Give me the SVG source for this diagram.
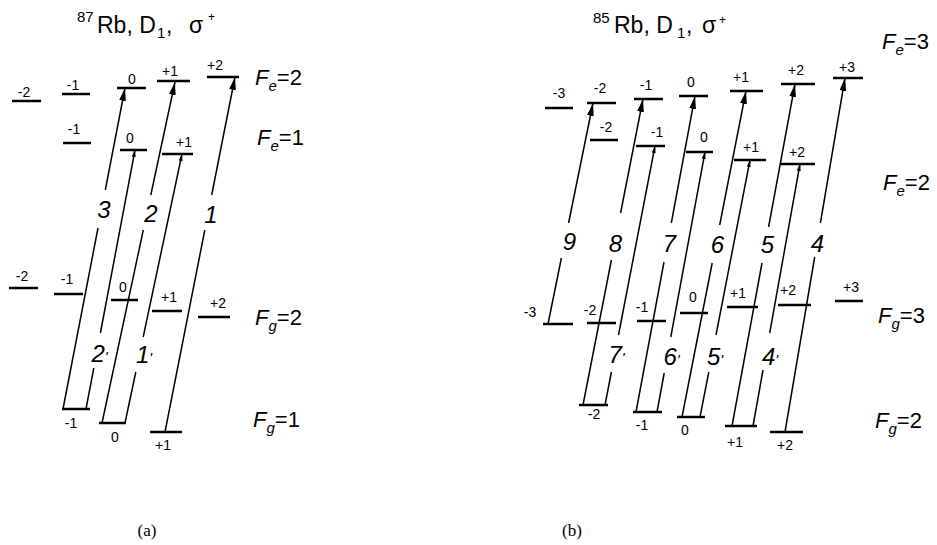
<svg xmlns="http://www.w3.org/2000/svg" width="937" height="545" viewBox="0 0 937 545">
<style>
.lvl{stroke:#000;stroke-width:2.5;fill:none}
.m{font-family:"Liberation Sans",Arial,sans-serif;font-size:14px;text-anchor:middle;fill:#000}
.conn{stroke:#000;stroke-width:1.5;fill:none}
.big{marker-end:url(#ab)}
.small{marker-end:url(#as)}
.num{font-family:"Liberation Sans",Arial,sans-serif;font-style:italic;font-size:24px;text-anchor:middle;fill:#000}
.pr{font-size:15px}
.F{font-family:"Liberation Sans",Arial,sans-serif;font-style:italic;font-size:22px;fill:#000}
.t{font-family:"Liberation Sans",Arial,sans-serif;font-size:23px;fill:#000}
.cap{font-family:"Liberation Serif","Times New Roman",serif;font-size:17px;text-anchor:middle;fill:#000}
</style>
<defs>
<marker id="ab" markerUnits="userSpaceOnUse" markerWidth="13" markerHeight="7" refX="13" refY="3.4" orient="auto"><path d="M0,0 L13,3.4 L0,6.8 z" fill="#000"/></marker>
<marker id="as" markerUnits="userSpaceOnUse" markerWidth="7" markerHeight="4" refX="7" refY="2" orient="auto"><path d="M0,0 L7,2 L0,4 z" fill="#000"/></marker>
</defs>
<rect width="937" height="545" fill="#fff"/>

<!-- titles -->
<text class="t" id="title-a"><tspan x="77" y="22" font-size="15">87</tspan><tspan x="97" y="33">Rb, D</tspan><tspan x="157" y="38" font-size="15">1</tspan><tspan x="166" y="33">,</tspan><tspan x="189" y="33">σ</tspan><tspan x="208" y="21" font-size="12">+</tspan></text>
<text class="t" id="title-b"><tspan x="593" y="23" font-size="15">85</tspan><tspan x="614" y="33">Rb, D</tspan><tspan x="677" y="38" font-size="15">1</tspan><tspan x="686" y="33">,</tspan><tspan x="702" y="33">σ</tspan><tspan x="719" y="24" font-size="12">+</tspan></text>

<!-- level labels F -->
<text class="F" x="255" y="85">F<tspan font-size="15" dy="6">e</tspan><tspan font-style="normal" dy="-6">=2</tspan></text>
<text class="F" x="257" y="145">F<tspan font-size="15" dy="6">e</tspan><tspan font-style="normal" dy="-6">=1</tspan></text>
<text class="F" x="255" y="325">F<tspan font-size="15" dy="6">g</tspan><tspan font-style="normal" dy="-6">=2</tspan></text>
<text class="F" x="253" y="427">F<tspan font-size="15" dy="6">g</tspan><tspan font-style="normal" dy="-6">=1</tspan></text>
<text class="F" x="882" y="49">F<tspan font-size="15" dy="6">e</tspan><tspan font-style="normal" dy="-6">=3</tspan></text>
<text class="F" x="883" y="190">F<tspan font-size="15" dy="6">e</tspan><tspan font-style="normal" dy="-6">=2</tspan></text>
<text class="F" x="878" y="323">F<tspan font-size="15" dy="6">g</tspan><tspan font-style="normal" dy="-6">=3</tspan></text>
<text class="F" x="875" y="428">F<tspan font-size="15" dy="6">g</tspan><tspan font-style="normal" dy="-6">=2</tspan></text>

<!-- (a) 87Rb levels -->
<g id="a-e2-m-2"><line class="lvl" x1="12" y1="101" x2="41" y2="101"/><text class="m" x="24" y="97">-2</text></g>
<g id="a-e2-m-1"><line class="lvl" x1="62" y1="94" x2="90" y2="94"/><text class="m" x="73" y="90">-1</text></g>
<g id="a-e2-m0"><line class="lvl" x1="117" y1="88" x2="146" y2="88"/><text class="m" x="132" y="84">0</text></g>
<g id="a-e2-m1"><line class="lvl" x1="157" y1="81" x2="190" y2="81"/><text class="m" x="170" y="76">+1</text></g>
<g id="a-e2-m2"><line class="lvl" x1="207" y1="77" x2="239" y2="77"/><text class="m" x="215" y="70">+2</text></g>

<g id="a-e1-m-1"><line class="lvl" x1="63" y1="143" x2="91" y2="143"/><text class="m" x="74" y="134">-1</text></g>
<g id="a-e1-m0"><line class="lvl" x1="120" y1="150" x2="147" y2="150"/><text class="m" x="130" y="143">0</text></g>
<g id="a-e1-m1"><line class="lvl" x1="162" y1="154" x2="193" y2="154"/><text class="m" x="184" y="147">+1</text></g>

<g id="a-g2-m-2"><line class="lvl" x1="9" y1="288" x2="38" y2="288"/><text class="m" x="22" y="281">-2</text></g>
<g id="a-g2-m-1"><line class="lvl" x1="54" y1="294" x2="83" y2="294"/><text class="m" x="67" y="284">-1</text></g>
<g id="a-g2-m0"><line class="lvl" x1="111" y1="300" x2="138" y2="300"/><text class="m" x="123" y="292">0</text></g>
<g id="a-g2-m1"><line class="lvl" x1="152" y1="311" x2="182" y2="311"/><text class="m" x="169" y="302">+1</text></g>
<g id="a-g2-m2"><line class="lvl" x1="198" y1="317" x2="230" y2="317"/><text class="m" x="218" y="308">+2</text></g>

<g id="a-g1-m-1"><line class="lvl" x1="62" y1="409" x2="90" y2="409"/><text class="m" x="71" y="428">-1</text></g>
<g id="a-g1-m0"><line class="lvl" x1="99" y1="423" x2="126" y2="423"/><text class="m" x="115" y="442">0</text></g>
<g id="a-g1-m1"><line class="lvl" x1="150" y1="432" x2="182" y2="432"/><text class="m" x="163" y="450">+1</text></g>

<!-- (b) 85Rb levels -->
<g id="b-e3-m-3"><line class="lvl" x1="545" y1="108" x2="573" y2="108"/><text class="m" x="559" y="98">-3</text></g>
<g id="b-e3-m-2"><line class="lvl" x1="587" y1="103" x2="616" y2="103"/><text class="m" x="600" y="93">-2</text></g>
<g id="b-e3-m-1"><line class="lvl" x1="634" y1="99" x2="663" y2="99"/><text class="m" x="646" y="90">-1</text></g>
<g id="b-e3-m0"><line class="lvl" x1="679" y1="96" x2="708" y2="96"/><text class="m" x="691" y="87">0</text></g>
<g id="b-e3-m1"><line class="lvl" x1="730" y1="91" x2="763" y2="91"/><text class="m" x="741" y="82">+1</text></g>
<g id="b-e3-m2"><line class="lvl" x1="781" y1="84" x2="815" y2="84"/><text class="m" x="796" y="75">+2</text></g>
<g id="b-e3-m3"><line class="lvl" x1="833" y1="78" x2="863" y2="78"/><text class="m" x="847" y="72">+3</text></g>

<g id="b-e2-m-2"><line class="lvl" x1="590" y1="140" x2="618" y2="140"/><text class="m" x="606" y="132">-2</text></g>
<g id="b-e2-m-1"><line class="lvl" x1="636" y1="146" x2="665" y2="146"/><text class="m" x="657" y="137">-1</text></g>
<g id="b-e2-m0"><line class="lvl" x1="686" y1="152" x2="713" y2="152"/><text class="m" x="704" y="142">0</text></g>
<g id="b-e2-m1"><line class="lvl" x1="734" y1="160" x2="766" y2="160"/><text class="m" x="751" y="152">+1</text></g>
<g id="b-e2-m2"><line class="lvl" x1="781" y1="164" x2="815" y2="164"/><text class="m" x="797" y="157">+2</text></g>

<g id="b-g3-m-3"><line class="lvl" x1="543" y1="324" x2="573" y2="324"/><text class="m" x="530" y="317">-3</text></g>
<g id="b-g3-m-2"><line class="lvl" x1="587" y1="323" x2="616" y2="323"/><text class="m" x="590" y="315">-2</text></g>
<g id="b-g3-m-1"><line class="lvl" x1="637" y1="321" x2="666" y2="321"/><text class="m" x="642" y="312">-1</text></g>
<g id="b-g3-m0"><line class="lvl" x1="680" y1="313" x2="708" y2="313"/><text class="m" x="693" y="302">0</text></g>
<g id="b-g3-m1"><line class="lvl" x1="727" y1="307" x2="758" y2="307"/><text class="m" x="738" y="298">+1</text></g>
<g id="b-g3-m2"><line class="lvl" x1="778" y1="305" x2="811" y2="305"/><text class="m" x="788" y="295">+2</text></g>
<g id="b-g3-m3"><line class="lvl" x1="835" y1="301" x2="863" y2="301"/><text class="m" x="851" y="292">+3</text></g>

<g id="b-g2-m-2"><line class="lvl" x1="579" y1="405" x2="608" y2="405"/><text class="m" x="594" y="419">-2</text></g>
<g id="b-g2-m-1"><line class="lvl" x1="633" y1="412" x2="662" y2="412"/><text class="m" x="642" y="430">-1</text></g>
<g id="b-g2-m0"><line class="lvl" x1="677" y1="417" x2="705" y2="417"/><text class="m" x="685" y="435">0</text></g>
<g id="b-g2-m1"><line class="lvl" x1="725" y1="426" x2="757" y2="426"/><text class="m" x="735" y="447">+1</text></g>
<g id="b-g2-m2"><line class="lvl" x1="770" y1="432" x2="803" y2="432"/><text class="m" x="785" y="450">+2</text></g>

<!-- connectors -->
<g id="connectors">
<path class="conn big" d="M63,409 L98,228 M105.3,190 L125,88"/>
<path class="conn small" d="M86,409 L93.8,368 M100.4,333 L135,150"/>
<path class="conn big" d="M102,423 L143.3,230 M150.8,195 L175,82"/>
<path class="conn small" d="M125,423 L135.8,372 M143.2,337 L182,154"/>
<path class="conn big" d="M165,432 L204.8,230 M211.7,195 L235,77"/>

<path class="conn big" d="M548,324 L561.4,258 M568.6,223 L593,103"/>
<path class="conn big" d="M583,405 L611.4,260 M620.6,213 L643,99"/>
<path class="conn small" d="M605,405 L611.4,372 M618.5,335 L655,146"/>
<path class="conn big" d="M636,412 L664,262 M671.3,223 L695,96"/>
<path class="conn small" d="M657,412 L664.2,373 M670.8,337 L705,152"/>
<path class="conn big" d="M682,417 L712.2,263 M719.7,225 L746,91"/>
<path class="conn small" d="M700,417 L708.8,372 M716,335 L750,160"/>
<path class="conn big" d="M732,426 L762,263 M768.6,227 L795,84"/>
<path class="conn small" d="M753,426 L763,370 M769.7,333 L800,164"/>
<path class="conn big" d="M785,432 L814.7,257 M820.4,223 L845,78"/>
</g>

<!-- transition labels -->
<g id="labels">
<text class="num" x="104" y="218">3</text>
<text class="num" x="151" y="222">2</text>
<text class="num" x="211" y="223">1</text>
<text class="num" x="99.5" y="362">2<tspan class="pr">'</tspan></text>
<text class="num" x="144" y="363">1<tspan class="pr">'</tspan></text>

<text class="num" x="569.5" y="250">9</text>
<text class="num" x="615.5" y="252">8</text>
<text class="num" x="669.5" y="252">7</text>
<text class="num" x="717.5" y="253">6</text>
<text class="num" x="767.5" y="253">5</text>
<text class="num" x="817.5" y="252">4</text>
<text class="num" x="616.5" y="363">7<tspan class="pr">'</tspan></text>
<text class="num" x="671.5" y="365">6<tspan class="pr">'</tspan></text>
<text class="num" x="715" y="365">5<tspan class="pr">'</tspan></text>
<text class="num" x="770" y="365">4<tspan class="pr">'</tspan></text>
</g>

<text class="cap" x="147" y="536">(a)</text>
<text class="cap" x="572" y="536">(b)</text>
</svg>
